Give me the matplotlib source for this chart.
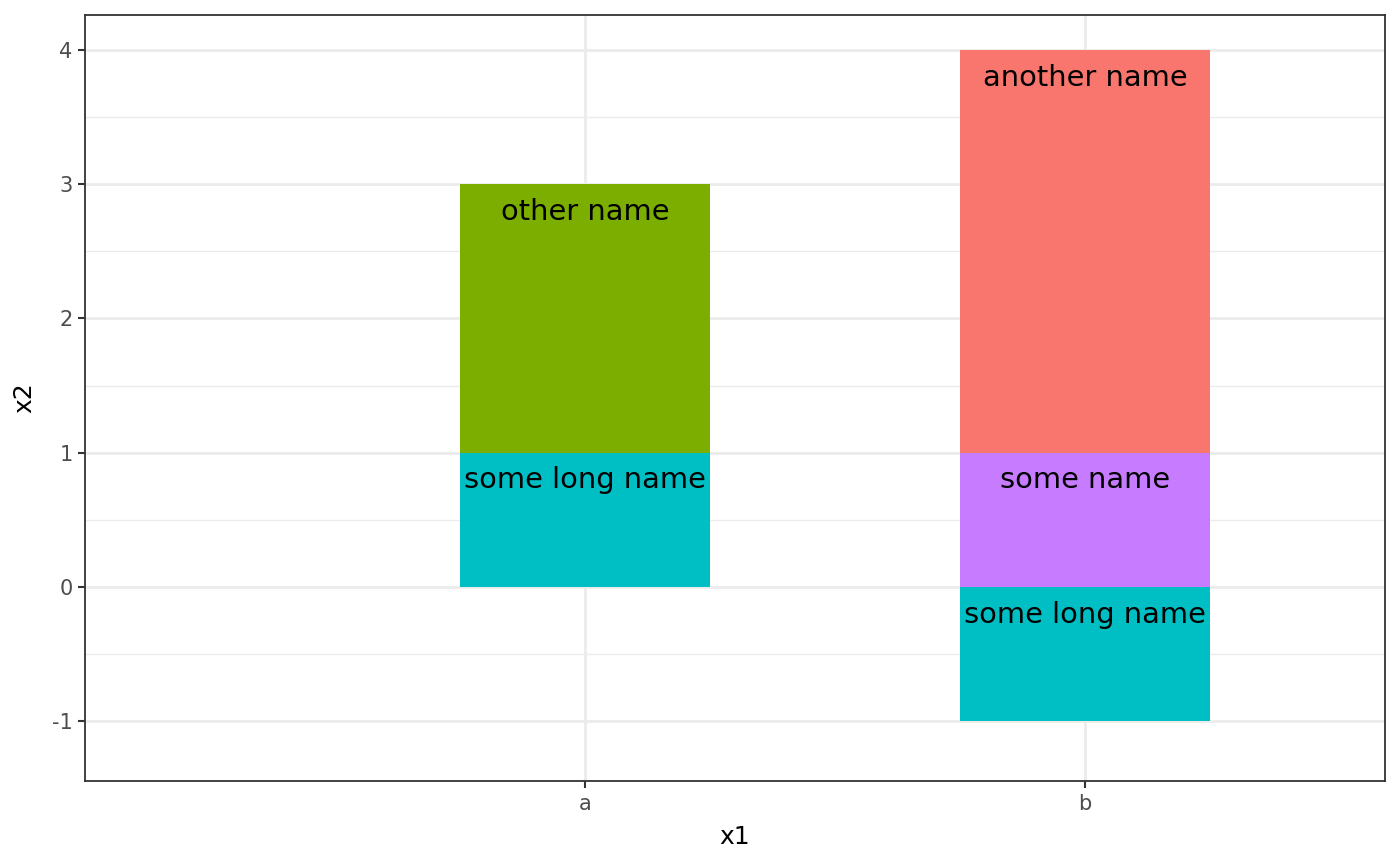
import matplotlib
matplotlib.use("Agg")
import matplotlib.pyplot as plt
from matplotlib.ticker import MultipleLocator, FixedLocator

categories = ["a", "b"]
# segments: (category, bottom, top, label, color)
seg_cat = ["a", "a", "b", "b", "b"]
seg_bottom = [0, 1, -1, 0, 1]
seg_top = [1, 3, 0, 1, 4]
seg_label = ["some long name", "other name", "some long name", "some name", "another name"]
seg_color = ["#00BFC4", "#7CAE00", "#00BFC4", "#C77CFF", "#F8766D"]

fig = plt.figure(figsize=(14, 8.66), dpi=100)
ax = fig.add_axes([85/1400, 1-781/866, 1300/1400, 766/866])

xpos = {c: i + 1 for i, c in enumerate(categories)}
for c, b, t, lab, col in zip(seg_cat, seg_bottom, seg_top, seg_label, seg_color):
    ax.bar(xpos[c], t - b, bottom=b, width=0.5, color=col, zorder=2)
    ax.annotate(lab, (xpos[c], t), xytext=(0, -20), textcoords="offset points",
                ha="center", va="center", fontsize=20.8, color="black", zorder=3)

ax.set_xlim(0, 2.6)
ax.set_ylim(-1.446, 4.26)
ax.set_xticks([1, 2])
ax.set_xticklabels(categories)
ax.yaxis.set_minor_locator(MultipleLocator(0.5))
ax.set_yticks([-1, 0, 1, 2, 3, 4])
ax.set_yticklabels(["-1", "0", "1", "2", "3", "4"])

ax.grid(which="major", color="#EBEBEB", linewidth=2.0, zorder=0)
ax.grid(which="minor", axis="y", color="#EBEBEB", linewidth=1.0, zorder=0)
ax.set_axisbelow(True)

for s in ax.spines.values():
    s.set_color("#333333")
    s.set_linewidth(1.3)
ax.tick_params(which="major", length=5, width=1.5, color="#333333",
               labelcolor="#4D4D4D", labelsize=15, pad=4)
ax.tick_params(which="minor", length=0)

ax.set_xlabel("x1", fontsize=18, labelpad=8)
ax.set_ylabel("x2", fontsize=18, labelpad=11)

fig.savefig("out.png", dpi=100, facecolor="white")
